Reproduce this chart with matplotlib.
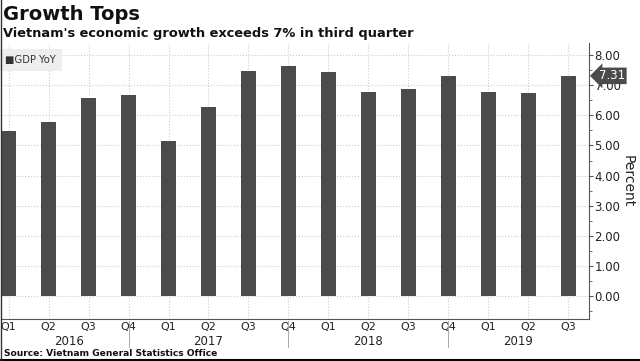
import numpy as np
import matplotlib.pyplot as plt
from matplotlib.lines import Line2D

quarters = ['Q1', 'Q2', 'Q3', 'Q4', 'Q1', 'Q2', 'Q3', 'Q4',
            'Q1', 'Q2', 'Q3', 'Q4', 'Q1', 'Q2', 'Q3']
years = ['2016', '2017', '2018', '2019']
year_pos = [1.5, 5.0, 9.0, 12.75]
gdp_yoy = [5.48, 5.78, 6.56, 6.68, 5.15, 6.28, 7.46, 7.65,
           7.45, 6.79, 6.88, 7.31, 6.79, 6.73, 7.31]
last_value = 7.31

bar_color = '#4b4b4b'
x = np.arange(len(gdp_yoy))

fig = plt.figure(figsize=(6.4, 3.61), dpi=100)
ax = fig.add_axes([0.001, 1 - 319 / 361, 589 / 640 - 0.001, (319 - 43) / 361])

ax.bar(x, gdp_yoy, width=0.38, color=bar_color, zorder=3)

ax.set_xlim(-0.2, 14.52)
ax.set_ylim(-0.76, 8.40)

# grid
ax.set_yticks(np.arange(0, 9, 1))
ax.set_yticks(np.arange(-0.5, 8.5, 0.5), minor=True)
ax.grid(axis='both', which='major', color='#cccccc', linestyle=':', linewidth=0.8, zorder=0)

ax.yaxis.tick_right()
ax.yaxis.set_label_position('right')
ax.set_yticklabels(['%.2f' % v for v in np.arange(0, 9, 1)], fontsize=8.5, color='#222222')
ax.tick_params(axis='y', which='major', length=3, width=0.8, color='#555555', pad=1)
ax.tick_params(axis='y', which='minor', length=2, width=0.6, color='#555555')
ax.set_ylabel('Percent', rotation=-90, fontsize=10, color='#222222', labelpad=10)

ax.set_xticks(x)
ax.set_xticklabels(quarters, fontsize=8, color='#222222')
ax.tick_params(axis='x', length=0, pad=2)

for s in ['top', 'left']:
    ax.spines[s].set_visible(False)
ax.spines['right'].set_color('#555555')
ax.spines['bottom'].set_color('#555555')
ax.spines['right'].set_linewidth(0.8)
ax.spines['bottom'].set_linewidth(0.8)

# year labels and separators
for yr, p in zip(years, year_pos):
    ax.text(p, -0.76 - 22 / 30.125, yr, ha='center', va='center', fontsize=8.5,
            color='#222222', transform=ax.transData, clip_on=False)
for p in [3, 7, 11]:
    ax.add_line(Line2D([p, p], [-0.76 - 2 / 30.125, -0.76 - 28 / 30.125],
                       color='#aaaaaa', linewidth=0.7, clip_on=False))

# legend box
ax.text(0.008, 0.955, '\u25a0GDP YoY', transform=ax.transAxes, ha='left', va='top',
        fontsize=7.2, color='#333333',
        bbox=dict(boxstyle='square,pad=0.6', facecolor='#eeeeee', edgecolor='none'))

# last value tag
ax.annotate('%.2f' % last_value, xy=(14.52, last_value), xytext=(7, 0),
            textcoords='offset points', xycoords='data', ha='left', va='center',
            fontsize=8.5, color='white', annotation_clip=False,
            bbox=dict(boxstyle='larrow,pad=0.15', facecolor=bar_color, edgecolor='none'))

fig.text(0.004, 0.985, 'Growth Tops', fontsize=14, fontweight='bold', ha='left', va='top', color='#111111')
fig.text(0.004, 0.925, "Vietnam's economic growth exceeds 7% in third quarter", fontsize=9.4,
         fontweight='bold', ha='left', va='top', color='#111111')
fig.text(0.006, 1 - 353 / 361, 'Source: Vietnam General Statistics Office', fontsize=6.6,
         fontweight='bold', ha='left', va='center', color='#111111')

# border lines
fig.add_artist(Line2D([0, 1], [0.003, 0.003], transform=fig.transFigure, color='black', linewidth=1.5))
fig.add_artist(Line2D([0.001, 0.001], [0, 1], transform=fig.transFigure, color='#333333', linewidth=1))

plt.savefig('out.png', dpi=100)
plt.close()
